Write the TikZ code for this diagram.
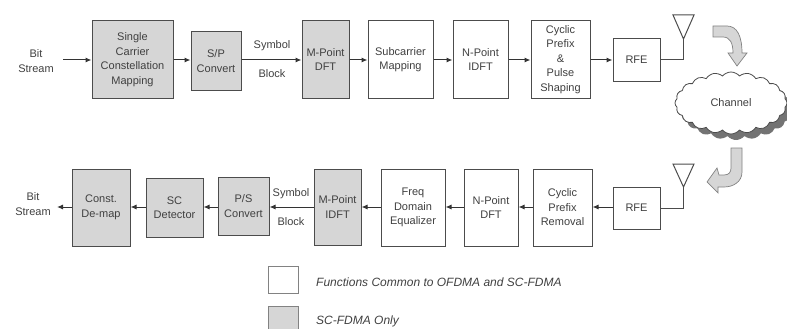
\documentclass[tikz,border=0pt]{standalone}
\usepackage{fontspec}
\setmainfont{Liberation Sans}
\usetikzlibrary{arrows.meta,shapes.symbols}
\definecolor{boxgray}{gray}{0.84}
\definecolor{linegray}{gray}{0.3}
\tikzset{
  block/.style={draw=linegray, line width=1pt, align=center, font=\fontsize{11}{14.5}\selectfont, text=black!75, inner sep=0pt},
  common/.style={block, fill=white},
  scfdma/.style={block, fill=boxgray},
  plain/.style={align=center, font=\fontsize{11}{14.5}\selectfont, text=black!75, inner sep=0pt},
  legendtext/.style={font=\fontsize{12}{14}\selectfont\itshape, text=black!75, anchor=west, inner sep=0pt},
  flow/.style={-{Latex[length=6pt,width=5pt]}, line width=1pt, draw=black!80},
  wire/.style={line width=1pt, draw=linegray},
  bendarrow/.style={draw=linegray!70, fill=boxgray, line width=0.7pt},
  puffs/.style={cloud, cloud puffs=20, cloud puff arc=100, aspect=1.9, minimum width=112pt, minimum height=62pt, inner sep=0pt}
}
\begin{document}
\begin{tikzpicture}[x=1pt,y=-1pt]
    \useasboundingbox (0,0) rectangle (787,329);

    % --- Transmitter row ---
    \node[plain] (bitin) at (36,61) {Bit\\Stream};
    \node[scfdma, minimum width=81pt, minimum height=77pt] (mapping) at (132.5,59.5) {Single\\Carrier\\Constellation\\Mapping};
    \node[scfdma, minimum width=50pt, minimum height=58pt] (sp) at (216,61) {S/P\\Convert};
    \node[scfdma, minimum width=47pt, minimum height=77pt] (mdft) at (325.5,59.5) {M-Point\\DFT};
    \node[common, minimum width=65pt, minimum height=77pt] (submap) at (400.5,59.5) {Subcarrier\\Mapping};
    \node[common, minimum width=55pt, minimum height=77pt] (nidft) at (480.5,59.5) {N-Point\\IDFT};
    \node[common, minimum width=59pt, minimum height=77pt] (cpadd) at (560.5,59.5) {Cyclic\\Prefix\\\&\\Pulse\\Shaping};
    \node[common, minimum width=47pt, minimum height=42pt] (rfetx) at (636.5,60) {RFE};
    \node[plain] (symtx) at (272,46) {Symbol};
    \node[plain] (blktx) at (272,74) {Block};

    % Antenna of the transmitter
    \coordinate (anttx) at (683.5,60);
    \coordinate (tiptx) at (683.5,39);
    \draw[wire] (rfetx.east) -- (anttx) -- (tiptx);
    \draw[wire] (tiptx) -- (673,15) -- (694,15) -- cycle;

    % Connections of the transmitter
    \coordinate (startin) at (63,60);
    \draw[flow] (startin) -- (mapping.west |- startin);
    \draw[flow] (mapping.east |- startin) -- (sp.west |- startin);
    \draw[flow] (sp.east |- startin) -- (mdft.west |- startin);
    \draw[flow] (mdft.east |- startin) -- (submap.west |- startin);
    \draw[flow] (submap.east |- startin) -- (nidft.west |- startin);
    \draw[flow] (nidft.east |- startin) -- (cpadd.west |- startin);
    \draw[flow] (cpadd.east |- startin) -- (rfetx.west);

    % --- Channel ---
    \node[puffs, fill=black!55] (channelshadow) at (736,109) {};
    \node[puffs, draw=linegray, fill=white, line width=0.8pt, font=\fontsize{11}{14.5}\selectfont, text=black!75] (channel) at (731,103) {Channel};

    % Curved block arrows
    \draw[bendarrow] (713,26) -- (727,26) .. controls (737,26) and (742,36) .. (742,53) -- (747,53) -- (737,66) -- (728,53) -- (733,53)
       .. controls (733,43) and (730,37) .. (723,37) -- (713,37) -- cycle;
    \draw[bendarrow] (731,148) -- (742,148) -- (742,172) .. controls (742,182) and (733,187) .. (724,187) -- (718,187) -- (718,193) -- (707,182) -- (717,168)
       -- (719,175) -- (724,175) .. controls (729,175) and (731,172) .. (731,168) -- cycle;

    % --- Receiver row ---
    \node[plain] (bitout) at (33,204) {Bit\\Stream};
    \node[scfdma, minimum width=58pt, minimum height=77pt] (demap) at (101,207.5) {Const.\\De-map};
    \node[scfdma, minimum width=57pt, minimum height=59pt] (detect) at (174.5,207.5) {SC\\Detector};
    \node[scfdma, minimum width=51pt, minimum height=58pt] (ps) at (243.5,206) {P/S\\Convert};
    \node[scfdma, minimum width=47pt, minimum height=76pt] (midft) at (337.5,207) {M-Point\\IDFT};
    \node[common, minimum width=64pt, minimum height=77pt] (equal) at (413,207.5) {Freq\\Domain\\Equalizer};
    \node[common, minimum width=54pt, minimum height=77pt] (ndft) at (491,207.5) {N-Point\\DFT};
    \node[common, minimum width=59pt, minimum height=77pt] (cprem) at (562.5,207.5) {Cyclic\\Prefix\\Removal};
    \node[common, minimum width=47pt, minimum height=42pt] (rferx) at (636.5,208) {RFE};
    \node[plain] (symrx) at (291,194) {Symbol};
    \node[plain] (blkrx) at (291,222) {Block};

    % Antenna of the receiver
    \coordinate (antrx) at (683.5,208);
    \coordinate (tiprx) at (683.5,187);
    \draw[wire] (rferx.east) -- (antrx) -- (tiprx);
    \draw[wire] (tiprx) -- (673,164) -- (694,164) -- cycle;

    % Connections of the receiver
    \coordinate (endout) at (57,207);
    \draw[flow] (rferx.west |- endout) -- (cprem.east |- endout);
    \draw[flow] (cprem.west |- endout) -- (ndft.east |- endout);
    \draw[flow] (ndft.west |- endout) -- (equal.east |- endout);
    \draw[flow] (equal.west |- endout) -- (midft.east |- endout);
    \draw[flow] (midft.west |- endout) -- (ps.east |- endout);
    \draw[flow] (ps.west |- endout) -- (detect.east |- endout);
    \draw[flow] (detect.west |- endout) -- (demap.east |- endout);
    \draw[flow] (demap.west |- endout) -- (endout);

    % --- Legend ---
    \node[common, draw=linegray!70, minimum width=30pt, minimum height=27pt] (keycommon) at (283,279.5) {};
    \node[scfdma, draw=linegray!70, minimum width=30pt, minimum height=24pt] (keyonly) at (283,318) {};
    \node[legendtext] (textcommon) at (316,282) {Functions Common to OFDMA and SC-FDMA};
    \node[legendtext] (textonly) at (316,321) {SC-FDMA Only};
\end{tikzpicture}
\end{document}
